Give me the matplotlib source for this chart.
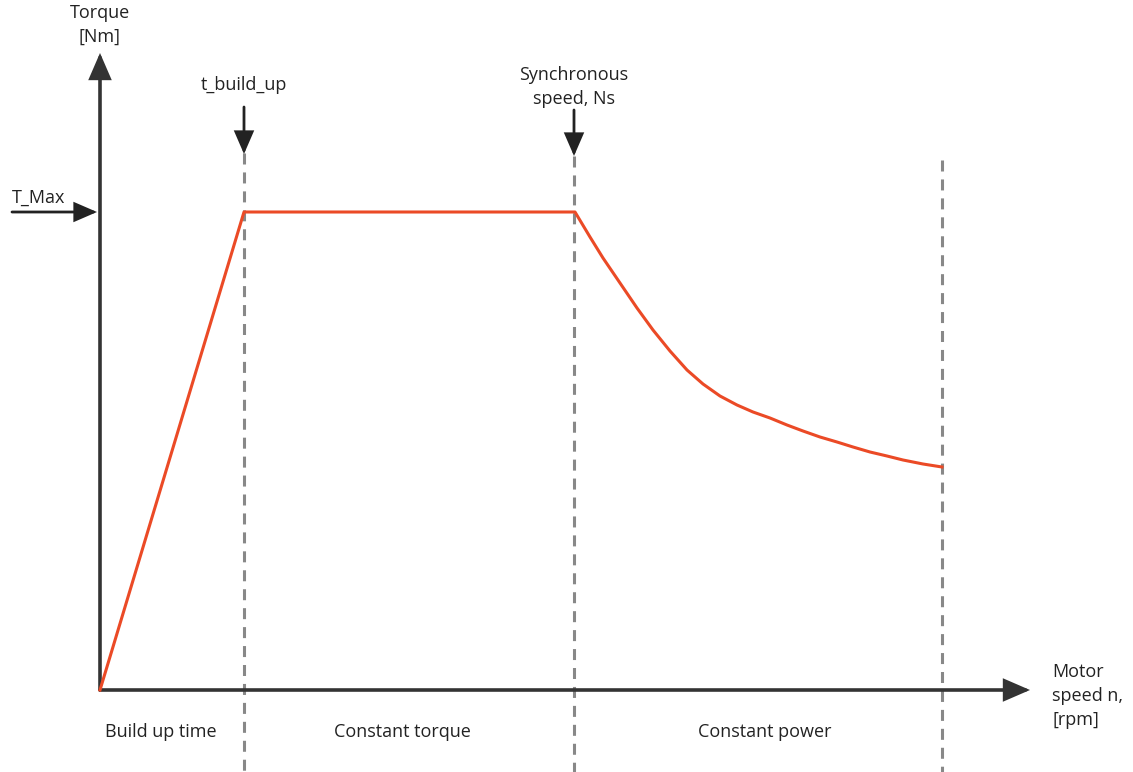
import matplotlib.pyplot as plt
from matplotlib.patches import FancyArrowPatch

plt.rcParams['font.family'] = ['Open Sans', 'DejaVu Sans']

# 数据 (任意单位, 读自图片)
speed = [0, 144, 475, 490, 503, 520, 537, 553, 570, 587, 603, 620, 637, 653,
         670, 687, 703, 720, 737, 753, 770, 787, 803, 823, 842]
torque = [0, 478, 478, 453, 432, 407, 382, 360, 339, 320, 306, 294, 285, 278,
          272, 265, 259, 253, 248, 243, 238, 234, 230, 226, 223]

t_build_up = 144
ns = 474
n_end = 842
t_max = 478

regions = ['Build up time', 'Constant torque', 'Constant power']
region_x = [61, 302, 665]

axis_col = '#333333'
curve_col = '#eb4a26'
dash_col = '#888888'

fig = plt.figure(figsize=(11.33, 7.72), dpi=100)
ax = fig.add_axes([0, 0, 1, 1])
ax.set_xlim(-100, 1033)
ax.set_ylim(-82, 690)
ax.axis('off')


def arrow(x0, y0, x1, y1, col=axis_col, lw=2.6, ms=10):
    a = FancyArrowPatch((x0, y0), (x1, y1), arrowstyle='-|>,head_length=1.5,head_width=0.65',
                        mutation_scale=ms, color=col, lw=lw, shrinkA=0, shrinkB=0,
                        joinstyle='miter')
    ax.add_patch(a)


# 虚线
for x, top in [(t_build_up, 537), (ns, 534), (n_end, 530)]:
    ax.plot([x, x], [top, -90], color=dash_col, lw=2.2, dashes=(3.6, 2.6), zorder=1)

# 坐标轴
arrow(0, 0, 0, 637)
arrow(0, 0, 930, 0)

# 曲线
ax.plot(speed, torque, color=curve_col, lw=2.2, zorder=3)

# 标记箭头
arrow(-88, t_max, -3, t_max, col='#222222', lw=2.0, ms=9)
arrow(t_build_up, 583, t_build_up, 536, col='#222222', lw=2.0, ms=9)
arrow(ns, 580, ns, 534, col='#222222', lw=2.0, ms=9)

fs = 13
tc = '#222222'
ax.text(0, 665, 'Torque\n[Nm]', ha='center', va='center', fontsize=fs, color=tc, linespacing=1.4)
ax.text(t_build_up, 605, 't_build_up', ha='center', va='center', fontsize=fs, color=tc)
ax.text(ns, 603, 'Synchronous\nspeed, Ns', ha='center', va='center', fontsize=fs, color=tc, linespacing=1.4)
ax.text(-88, 492, 'T_Max', ha='left', va='center', fontsize=fs, color=tc)
ax.text(952, -6, 'Motor\nspeed n,\n[rpm]', ha='left', va='center', fontsize=fs, color=tc, linespacing=1.45)
for name, x in zip(regions, region_x):
    ax.text(x, -42, name, ha='center', va='center', fontsize=fs, color=tc)

plt.savefig('out.png', dpi=100)
